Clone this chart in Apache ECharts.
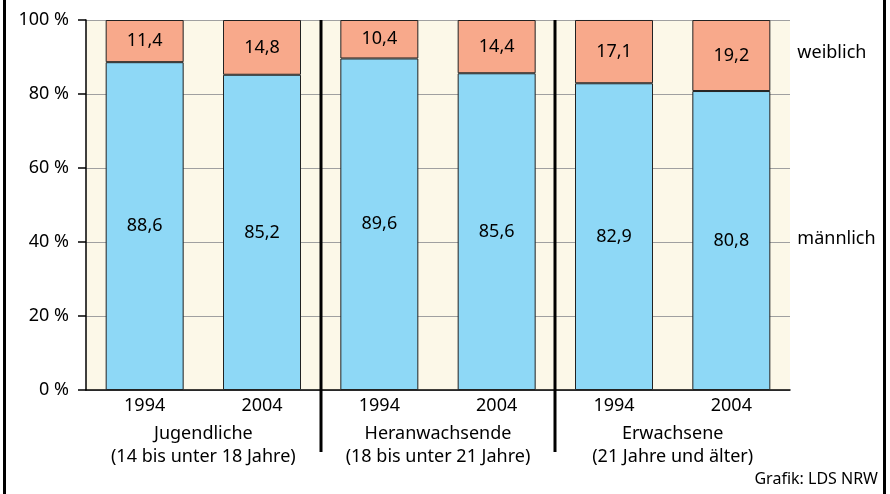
<!DOCTYPE html>
<html>
<head>
<meta charset="utf-8">
<script src="https://cdn.jsdelivr.net/npm/echarts@6/dist/echarts.min.js"></script>
<style>
  html, body { margin: 0; padding: 0; background: #fff; }
  #chart { width: 890px; height: 494px; }
  .frame { position: absolute; top: 0; width: 3px; height: 494px; background: #000; }
</style>
</head>
<body>
<div id="chart"></div>
<div class="frame" style="left:3px"></div>
<div class="frame" style="left:883px"></div>
<script>
// Anteil der Tatverdächtigen nach Geschlecht und Altersgruppe
const years = ['1994', '2004', '1994', '2004', '1994', '2004'];
const groups = [
  'Jugendliche\n(14 bis unter 18 Jahre)',
  'Heranwachsende\n(18 bis unter 21 Jahre)',
  'Erwachsene\n(21 Jahre und älter)'
];
const maennlich = [88.6, 85.2, 89.6, 85.6, 82.9, 80.8];
const weiblich = [11.4, 14.8, 10.4, 14.4, 17.1, 19.2];
const yTicks = [0, 20, 40, 60, 80, 100];

const FONT = '"Noto Sans", sans-serif';
const FS = 18;
const INK = '#000';
const fmt = v => String(v).replace('.', ',');

const chart = echarts.init(document.getElementById('chart'), null, { renderer: 'canvas' });

const labelStyle = {
  show: true,
  position: 'inside',
  color: INK,
  fontSize: FS,
  fontFamily: FONT,
  formatter: p => fmt(p.value)
};

chart.setOption({
  animation: false,
  backgroundColor: '#fff',
  grid: {
    left: 86, right: 100, top: 20, bottom: 104,
    show: true, backgroundColor: '#fcf8e8', borderWidth: 0
  },
  xAxis: [
    {
      type: 'category',
      data: years,
      axisLine: { show: true, lineStyle: { color: '#000', width: 1.5 } },
      axisTick: { show: false },
      axisLabel: { interval: 0, color: INK, fontSize: FS, fontFamily: FONT, margin: 7 }
    },
    {
      type: 'category',
      data: groups,
      position: 'bottom',
      axisLine: { show: false },
      axisTick: { show: false },
      axisLabel: {
        interval: 0, hideOverlap: false,
        color: INK, fontSize: FS, fontFamily: FONT, margin: 32, lineHeight: 23
      }
    }
  ],
  yAxis: {
    type: 'value',
    min: yTicks[0],
    max: yTicks[yTicks.length - 1],
    interval: 20,
    axisLine: { show: true, lineStyle: { color: '#000', width: 1.5 } },
    axisTick: { show: true, length: 8, lineStyle: { color: '#000', width: 1.5 } },
    axisLabel: {
      color: INK, fontSize: FS, fontFamily: FONT, margin: 17,
      formatter: v => v + ' %'
    },
    splitLine: { show: true, lineStyle: { color: '#a0a0a0', width: 1 } }
  },
  series: [
    {
      name: 'männlich',
      type: 'bar',
      stack: 'gesamt',
      barWidth: 78,
      data: maennlich,
      itemStyle: { color: '#8ed8f6', borderColor: '#222', borderWidth: 1 },
      label: labelStyle
    },
    {
      name: 'weiblich',
      type: 'bar',
      stack: 'gesamt',
      barWidth: 78,
      data: weiblich,
      itemStyle: { color: '#f8a98b', borderColor: '#222', borderWidth: 1 },
      label: labelStyle
    }
  ]
});

// Trennlinien zwischen den Altersgruppen und Beschriftungen rechts
function drawExtras() {
  const top = chart.convertToPixel({ yAxisIndex: 0 }, 100);
  const base = chart.convertToPixel({ yAxisIndex: 0 }, 0);
  const xs = years.map((_, i) => chart.convertToPixel({ xAxisIndex: 0 }, i));
  const elements = [];
  [1, 3].forEach(i => {
    const x = Math.round((xs[i] + xs[i + 1]) / 2);
    elements.push({
      type: 'line',
      shape: { x1: x, y1: top, x2: x, y2: base + 62 },
      style: { stroke: '#000', lineWidth: 3 },
      z: 100
    });
  });
  const rightX = chart.convertToPixel({ xAxisIndex: 0 }, years.length - 1) + 66;
  elements.push({
    type: 'text', left: rightX, top: 44,
    style: { text: 'weiblich', fill: INK, font: FS + 'px ' + FONT }
  });
  elements.push({
    type: 'text', left: rightX, top: 230,
    style: { text: 'männlich', fill: INK, font: FS + 'px ' + FONT }
  });
  elements.push({
    type: 'text', right: 12, top: 471,
    style: { text: 'Grafik: LDS NRW', fill: INK, font: '16px ' + FONT }
  });
  chart.setOption({ graphic: elements });
}
drawExtras();
</script>
</body>
</html>
